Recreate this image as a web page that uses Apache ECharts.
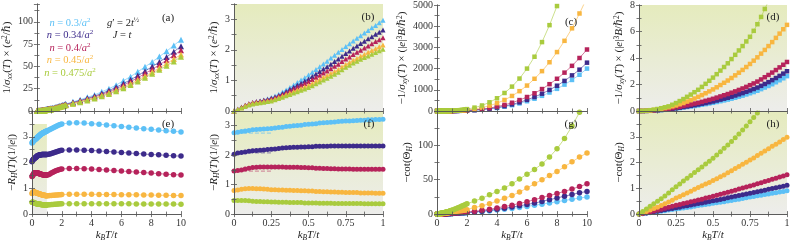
<!DOCTYPE html>
<html><head><meta charset="utf-8">
<script src="https://cdn.jsdelivr.net/npm/echarts@6/dist/echarts.min.js"></script>
<style>html,body{margin:0;padding:0;background:#fff}#c{width:793px;height:243px}</style>
</head><body><div id="c"></div>
<script>
// ---------- data ----------
const nLabels = ['0.3','0.34','0.4','0.45','0.475'];
const xLow = [0,0.025,0.05,0.075,0.1,0.125,0.15,0.175,0.2,0.225,0.25,0.275,0.3,0.325,0.35,0.375,0.4,0.425,0.45,0.475,0.5,0.525,0.55,0.575,0.6,0.625,0.65,0.675,0.7,0.725,0.75,0.775,0.8,0.825,0.85,0.875,0.9,0.925,0.95,0.975,1];
const xMid = [1.1,1.2,1.3,1.4,1.5,1.6,1.7,1.8,1.9,2.0];
const xHigh = [2.5,3,3.5,4,4.5,5,5.5,6,6.5,7,7.5,8,8.5,9,9.5,10];

// 1/sigma_xx
const sxxLow = [
 [0,.06,.12,.18,.23,.27,.30,.33,.36,.40,.44,.49,.55,.62,.69,.77,.85,.93,1.01,1.09,1.18,1.27,1.36,1.45,1.54,1.63,1.73,1.82,1.92,2.01,2.11,2.20,2.29,2.38,2.46,2.55,2.63,2.72,2.80,2.89,2.97],
 [0,.06,.12,.18,.23,.27,.30,.32,.35,.38,.42,.46,.51,.57,.64,.71,.78,.85,.91,.98,1.05,1.13,1.21,1.29,1.37,1.45,1.53,1.62,1.70,1.79,1.88,1.96,2.05,2.13,2.21,2.28,2.36,2.43,2.51,2.58,2.65],
 [0,.06,.12,.19,.24,.28,.30,.32,.34,.37,.40,.44,.49,.54,.60,.66,.72,.78,.84,.90,.96,1.03,1.10,1.17,1.24,1.31,1.38,1.46,1.53,1.62,1.70,1.77,1.85,1.92,1.99,2.06,2.13,2.20,2.27,2.33,2.40],
 [0,.05,.11,.17,.22,.25,.27,.29,.31,.33,.35,.39,.44,.49,.54,.59,.64,.69,.74,.79,.84,.90,.97,1.03,1.10,1.16,1.23,1.29,1.36,1.44,1.52,1.59,1.66,1.72,1.79,1.85,1.92,1.98,2.04,2.10,2.16],
 [0,.05,.10,.15,.20,.23,.25,.27,.29,.31,.33,.37,.41,.45,.50,.54,.59,.63,.68,.72,.77,.83,.89,.95,1.01,1.07,1.14,1.20,1.27,1.35,1.43,1.50,1.57,1.63,1.69,1.75,1.80,1.86,1.91,1.97,2.02]
];
const sxxMid = [
 [3.4,3.85,4.3,4.8,5.3,5.8,6.3,6.85,7.4,8.0],
 [3.07,3.5,3.95,4.4,4.9,5.4,5.9,6.4,6.95,7.5],
 [2.8,3.22,3.65,4.1,4.55,5.0,5.5,6.0,6.55,7.1],
 [2.55,2.96,3.38,3.82,4.27,4.73,5.2,5.7,6.2,6.7],
 [2.4,2.8,3.2,3.63,4.07,4.52,4.98,5.45,5.92,6.4]
];
const sxxHigh = [
 [10.3,12.7,15.3,18,21.5,25,29,34,38.5,44,49.5,55,61,67,73.5,80],
 [9.6,11.8,14.2,16.7,19.7,23,26.6,30.8,35,39.7,44.7,49.8,55,60.5,66.5,72.5],
 [9.1,11.2,13.5,15.8,18.6,21.6,25,28.9,32.9,37.3,42,46.8,51.8,57,62.5,68],
 [8.5,10.4,12.5,14.7,17.3,20.1,23.3,26.9,30.6,34.7,39,43.6,48.3,53.2,58.2,63.4],
 [8.1,9.9,11.9,14,16.5,19.2,22.2,25.6,29.2,33.1,37.3,41.7,46.2,50.8,55.6,60.8]
];

// -1/sigma_xy
const sxyLow = [
 [0,0,.01,.02,.03,.05,.07,.09,.12,.15,.18,.22,.26,.30,.34,.38,.42,.47,.52,.57,.62,.68,.74,.80,.86,.93,1.00,1.08,1.16,1.25,1.34,1.43,1.53,1.65,1.77,1.89,2.02,2.17,2.32,2.47,2.63],
 [0,0,.01,.02,.04,.06,.08,.11,.14,.17,.21,.25,.30,.34,.39,.44,.49,.55,.60,.66,.72,.79,.86,.93,1.00,1.08,1.17,1.26,1.35,1.45,1.55,1.66,1.77,1.90,2.04,2.18,2.33,2.49,2.65,2.82,3.00],
 [0,0,.01,.03,.05,.08,.11,.14,.18,.22,.27,.32,.38,.44,.50,.56,.62,.69,.77,.84,.92,1.01,1.10,1.19,1.28,1.38,1.48,1.59,1.70,1.82,1.95,2.08,2.22,2.38,2.55,2.72,2.90,3.09,3.29,3.49,3.70],
 [0,.01,.02,.04,.08,.12,.17,.22,.28,.35,.42,.51,.60,.71,.82,.94,1.07,1.20,1.34,1.48,1.63,1.79,1.96,2.13,2.30,2.49,2.69,2.89,3.10,3.32,3.55,3.80,4.05,4.33,4.61,4.90,5.20,5.52,5.84,6.17,6.50],
 [0,.01,.03,.06,.10,.15,.21,.28,.35,.47,.60,.75,.90,1.07,1.24,1.42,1.60,1.82,2.05,2.28,2.52,2.78,3.05,3.32,3.60,3.92,4.24,4.57,4.90,5.25,5.60,6.05,6.55,7.10,7.70,8.30,8.95,9.60,10.2,10.8,11.5]
];
const sxyMid = [
 [3.4,4.4,5.6,7.0,8.6,10.4,12.4,14.6,17.0,19.5],
 [3.9,5.0,6.4,8.0,9.8,11.9,14.2,16.7,19.4,22],
 [4.8,6.2,7.9,9.8,12.1,14.6,17.4,20.5,23.8,27.5],
 [8.5,11,14,17.5,21.5,26,31,36.5,42.5,49],
 [15,19.5,24.5,30.5,37.5,45.5,54,64,75,88]
];
const sxyHigh = [
 [36,62,97,142,200,272,357,460,578,716,872,1045,1245,1465,1710,2000],
 [41,71,111,162,228,310,408,525,660,817,995,1192,1420,1680,1950,2280],
 [52,88,139,204,288,390,515,660,835,1035,1265,1520,1810,2130,2500,2900],
 [94,160,250,368,520,710,935,1200,1520,1880,2300,2780,3310,3900,4600,5350],
 [160,260,410,600,850,1150,1530,2000,2560,3250,4050,4950,5950,7100,8350,9700]
];

// -R_H
const rhLow = [
 [2.76,2.78,2.80,2.82,2.84,2.86,2.87,2.88,2.89,2.90,2.91,2.92,2.94,2.95,2.97,2.98,3.00,3.01,3.02,3.04,3.05,3.06,3.07,3.09,3.10,3.11,3.12,3.13,3.14,3.15,3.16,3.16,3.17,3.18,3.19,3.19,3.20,3.20,3.21,3.21,3.22],
 [2.03,2.07,2.09,2.11,2.13,2.15,2.16,2.17,2.18,2.19,2.20,2.21,2.23,2.24,2.25,2.26,2.27,2.27,2.28,2.28,2.29,2.29,2.30,2.30,2.30,2.30,2.31,2.31,2.31,2.31,2.31,2.31,2.31,2.31,2.31,2.31,2.31,2.31,2.31,2.31,2.31],
 [1.46,1.48,1.50,1.53,1.56,1.58,1.59,1.60,1.60,1.60,1.60,1.60,1.60,1.60,1.59,1.59,1.59,1.59,1.58,1.58,1.57,1.57,1.56,1.56,1.55,1.55,1.54,1.54,1.53,1.53,1.53,1.53,1.52,1.52,1.52,1.52,1.52,1.52,1.52,1.52,1.52],
 [.80,.82,.84,.86,.87,.87,.86,.86,.85,.84,.83,.83,.82,.82,.81,.81,.80,.80,.79,.79,.78,.78,.77,.77,.76,.76,.75,.75,.74,.74,.73,.73,.73,.73,.72,.72,.72,.72,.71,.71,.71],
 [.46,.46,.46,.46,.45,.44,.43,.43,.42,.42,.41,.41,.40,.40,.40,.39,.39,.39,.39,.38,.38,.38,.38,.37,.37,.37,.37,.36,.36,.36,.36,.36,.36,.36,.36,.35,.35,.35,.35,.35,.35]
];
const rhMid = [
 [3.25,3.28,3.31,3.34,3.37,3.40,3.43,3.46,3.48,3.50],
 [2.32,2.33,2.35,2.37,2.39,2.41,2.43,2.45,2.47,2.48],
 [1.53,1.56,1.59,1.62,1.65,1.68,1.70,1.72,1.74,1.75],
 [.71,.72,.72,.73,.73,.74,.74,.75,.75,.76],
 [.36,.36,.37,.37,.38,.38,.39,.39,.40,.40]
];
const rhHigh = [
 [3.53,3.54,3.53,3.51,3.49,3.46,3.43,3.40,3.37,3.34,3.31,3.29,3.26,3.23,3.21,3.19],
 [2.49,2.49,2.48,2.47,2.45,2.43,2.41,2.39,2.37,2.35,2.33,2.31,2.30,2.28,2.26,2.25],
 [1.77,1.77,1.76,1.75,1.73,1.71,1.69,1.67,1.65,1.63,1.61,1.59,1.57,1.55,1.53,1.52],
 [.77,.77,.77,.77,.76,.76,.76,.75,.75,.75,.74,.74,.73,.73,.72,.72],
 [.40,.40,.40,.40,.40,.40,.40,.40,.40,.39,.39,.39,.39,.39,.39,.38]
];
// classical reference levels shown dashed in (f)
const dashX = [0.06, 0.25];
const dashY = [2.75, 2.08, 1.46];

// -cot(Theta_H)
const cotLow = [
 [0,.01,.03,.05,.07,.09,.11,.13,.16,.18,.20,.22,.24,.26,.28,.30,.33,.35,.37,.39,.42,.44,.46,.48,.51,.53,.56,.58,.61,.63,.66,.68,.71,.73,.76,.78,.81,.83,.86,.88,.91],
 [0,.02,.04,.06,.09,.11,.14,.17,.20,.22,.25,.27,.30,.32,.35,.38,.41,.43,.46,.49,.52,.54,.57,.60,.63,.66,.69,.72,.75,.78,.81,.84,.87,.90,.93,.96,.99,1.02,1.05,1.08,1.12],
 [0,.02,.05,.08,.12,.15,.19,.23,.27,.30,.34,.37,.41,.44,.48,.51,.55,.58,.62,.65,.69,.73,.77,.81,.85,.89,.93,.97,1.01,1.05,1.09,1.13,1.18,1.22,1.26,1.30,1.35,1.39,1.44,1.48,1.53],
 [0,.05,.10,.16,.22,.27,.33,.40,.47,.54,.62,.68,.75,.82,.89,.96,1.03,1.10,1.17,1.23,1.30,1.37,1.45,1.52,1.60,1.68,1.77,1.85,1.93,2.01,2.10,2.18,2.27,2.36,2.45,2.54,2.63,2.71,2.80,2.89,2.98],
 [0,.1,.2,.3,.4,.5,.6,.7,.82,.94,1.06,1.17,1.28,1.39,1.5,1.61,1.72,1.83,1.94,2.05,2.17,2.29,2.42,2.55,2.68,2.82,2.96,3.11,3.26,3.42,3.58,3.75,3.92,4.1,4.28,4.47,4.66,4.86,5.06,5.27,5.48]
];
const cotMid = [
 [1.0,1.1,1.2,1.3,1.4,1.5,1.6,1.7,1.8,1.9],
 [1.23,1.35,1.47,1.59,1.71,1.83,1.95,2.07,2.19,2.3],
 [1.68,1.83,1.98,2.13,2.27,2.42,2.57,2.71,2.86,3.0],
 [3.3,3.65,4.0,4.35,4.7,5.05,5.4,5.75,6.1,6.5],
 [6.4,7.3,8.2,9.1,10.1,11.0,12.0,13.0,14.0,15.0]
];
const cotHigh = [
 [2.7,3.6,4.6,5.8,7,8.3,9.7,11.2,12.8,14.5,16.2,18,19.8,21.6,23.3,25],
 [3.2,4.3,5.5,7,8.5,10.2,12,14,16,18.5,21,23.5,26,28.5,31,33],
 [4,5.5,7,9,11,13,15.5,18,21,24,27,30,33,36.5,40,44],
 [9.5,12,15,19,23,27,32,38,44,50,56,62,69,76,83,89],
 [19,23,28,33,38,44,51,58,65,73,83,95,110,128,148,170]
];

// ---------- style ----------
const C = ['#5cc0f6','#3d2b8b','#b6235b','#f8b640','#a9cb3e'];
const CL = ['rgba(92,191,245,0.55)','rgba(60,42,138,0.45)','rgba(180,34,90,0.45)'];
const AX = '#555';
const FF = '"Liberation Serif","DejaVu Serif",serif';
const LH = 13;
const rich = {
  i:{fontStyle:'italic',fontFamily:FF,fontSize:11,lineHeight:LH,color:'#222'},
  sub:{fontStyle:'italic',fontFamily:FF,fontSize:7.5,lineHeight:LH,verticalAlign:'bottom',color:'#222'},
  sup:{fontFamily:FF,fontSize:7.5,lineHeight:LH,verticalAlign:'top',color:'#222'}
};
const nameSxx = '1/{i|σ}{sub|xx}({i|T}) × ({i|e}{sup|2}/{i|ℏ})';
const nameSxy = '−1/{i|σ}{sub|xy}({i|T}) × (|{i|e}|{sup|3}{i|B}/{i|ℏ}{sup|2})';
const nameRh = '−{i|R}{sub|H}({i|T})(1/|{i|e}|)';
const nameCot = '−cot(Θ{sub|H})';
const nameX = '{i|k}{sub|B}{i|T}/{i|t}';
const BG = {type:'linear',x:0,y:0,x2:0,y2:1,colorStops:[{offset:0,color:'#e5ebbd'},{offset:1,color:'#ededeb'}]};

const panels = [
 {g:[32,4,149,107], x:[10,2], y:[120,25], hideMax:true, bottom:false, name:nameSxx, gap:17, sym:'triangle', size:6, low:sxxLow, mid:sxxMid, high:sxxHigh, shade:[1,3.5], lab:'(a)', lp:[168,18]},
 {g:[234,4,149,107], x:[1,0.25], y:[3.5,1], hideMax:true, bottom:false, name:nameSxx, gap:9, sym:'triangle', size:5, low:sxxLow, shade:[1,3.5], lab:'(b)', lp:[368,17]},
 {g:[437,4,150,107], x:[10,2], y:[5000,1000], hideMax:false, bottom:false, name:nameSxy, gap:25, sym:'rect', size:4.5, low:sxyLow, mid:sxyMid, high:sxyHigh, shade:[1,8], lab:'(c)', lp:[571,22]},
 {g:[639,4,148,107], x:[1,0.25], y:[8,2], hideMax:false, bottom:false, name:nameSxy, gap:9, sym:'rect', size:4.5, low:sxyLow, shade:[1,8], lab:'(d)', lp:[773,17]},
 {g:[32,111,149,107], x:[10,2], y:[4,1], hideMax:true, bottom:true, name:nameRh, gap:6, sym:'circle', size:5.5, low:rhLow, mid:rhMid, high:rhHigh, shade:[1,3.5], lab:'(e)', lp:[168,124]},
 {g:[234,111,149,107], x:[1,0.25], y:[3.5,1], hideMax:true, bottom:true, name:nameRh, gap:9, sym:'circle', size:5, low:rhLow, shade:[1,3.5], lab:'(f)', lp:[369,124], dash:true},
 {g:[437,111,150,107], x:[10,2], y:[150,50], hideMax:true, bottom:true, name:nameCot, gap:10, sym:'circle', size:5.5, low:cotLow, mid:cotMid, high:cotHigh, shade:[1,4], lab:'(g)', lp:[571,124]},
 {g:[639,111,148,107], x:[1,0.25], y:[4,1], hideMax:true, bottom:true, name:nameCot, gap:9, sym:'circle', size:5, low:cotLow, shade:[1,4], lab:'(h)', lp:[773,124]}
];

function pairs(xs, ys){ return xs.map((x,i)=>[x, ys[i]]); }
const tickStyle = {show:true, inside:true, length:3, lineStyle:{color:AX, width:0.8}};
const minorStyle = {show:true, splitNumber:2, length:2.5, lineStyle:{color:AX, width:0.8}};
const labelStyle = {fontFamily:FF, fontSize:10, color:'#333'};

const option = {animation:false, backgroundColor:'#fff', grid:[], xAxis:[], yAxis:[], series:[], graphic:[]};

panels.forEach((p,k)=>{
  option.grid.push({left:p.g[0], top:p.g[1], width:p.g[2], height:p.g[3], containLabel:false, show:false});
  const baseX = {type:'value', gridIndex:k, min:0, max:p.x[0], interval:p.x[1], z:10,
    axisLine:{show:true, lineStyle:{color:AX, width:0.8}}, axisTick:tickStyle, minorTick:minorStyle, splitLine:{show:false}};
  option.xAxis.push(Object.assign({}, baseX, {position:'bottom',
    axisLabel:{show:p.bottom, margin:4, formatter:v=>String(v), ...labelStyle},
    name:p.bottom?nameX:'', nameLocation:'middle', nameGap:12,
    nameTextStyle:{fontFamily:FF, fontSize:11, color:'#222', lineHeight:LH, rich:rich}}));
  option.xAxis.push(Object.assign({}, baseX, {position:'top', axisLabel:{show:false}}));
  const baseY = {type:'value', gridIndex:k, min:0, max:p.y[0], interval:p.y[1], z:10,
    axisLine:{show:true, lineStyle:{color:AX, width:0.8}}, axisTick:tickStyle, minorTick:minorStyle, splitLine:{show:false}};
  option.yAxis.push(Object.assign({}, baseY, {position:'left',
    axisLabel:{show:true, margin:4, showMaxLabel:!p.hideMax, formatter:v=>String(v), ...labelStyle},
    name:p.name, nameLocation:'middle', nameGap:p.gap,
    nameTextStyle:{fontFamily:FF, fontSize:11, color:'#222', lineHeight:LH, rich:rich}}));
  option.yAxis.push(Object.assign({}, baseY, {position:'right', axisLabel:{show:false}}));
  const xi = 2*k, yi = 2*k;
  option.series.push({type:'line', xAxisIndex:xi, yAxisIndex:yi, data:[[0,0]], symbol:'none', silent:true,
    lineStyle:{opacity:0}, z:1,
    markArea:{silent:true, itemStyle:{color:BG, borderWidth:0}, data:[[{coord:[0,0]},{coord:[p.shade[0],p.shade[1]]}]]}});
  p.low.forEach((ys,s)=>{
    let d = pairs(xLow, ys);
    if (p.mid) d = d.concat(pairs(xMid, p.mid[s]), pairs(xHigh, p.high[s]));
    option.series.push({type:'line', xAxisIndex:xi, yAxisIndex:yi, data:d, symbol:p.sym, symbolSize:p.size,
      showAllSymbol:true, silent:true, z:3+s, clip:true,
      itemStyle:{color:C[s], borderWidth:0}, lineStyle:{color:C[s], width:0.8, opacity:0.75}});
  });
  if (p.dash) {
    dashY.forEach((yv,s)=>{
      option.series.push({type:'line', xAxisIndex:xi, yAxisIndex:yi, data:dashX.map(x=>[x,yv]), symbol:'none', silent:true, z:9,
        lineStyle:{color:CL[s], width:1.2, type:[4,2]}});
    });
  }
  option.graphic.push({type:'text', x:p.lp[0], y:p.lp[1], z:20,
    style:{text:p.lab, fontFamily:FF, fontSize:11, fill:'#222', textAlign:'center', textVerticalAlign:'middle'}});
});

// legend-like annotations inside panel (a)
const legY = [23, 35.5, 48, 60.5, 73];
nLabels.forEach((t,i)=>{
  option.graphic.push({type:'text', x:70, y:legY[i], z:20, style:{
    text:'{i|n} = '+t+'/{i|a}{s|2}', fontFamily:FF, fontSize:10.5, fill:C[i], textAlign:'center', textVerticalAlign:'middle',
    rich:{i:{fontStyle:'italic', fontFamily:FF, fontSize:10.5, fill:C[i], lineHeight:LH},
          s:{fontFamily:FF, fontSize:7, fill:C[i], verticalAlign:'top', lineHeight:LH}}}});
});
option.graphic.push({type:'text', x:123, y:23, z:20, style:{
  text:'{i|g}′ = 2{i|t}{s|½}', fontFamily:FF, fontSize:10.5, fill:'#222', textAlign:'center', textVerticalAlign:'middle',
  rich:{i:{fontStyle:'italic', fontFamily:FF, fontSize:10.5, fill:'#222', lineHeight:LH},
        s:{fontFamily:FF, fontSize:7, fill:'#222', verticalAlign:'top', lineHeight:LH}}}});
option.graphic.push({type:'text', x:122, y:35, z:20, style:{
  text:'{i|J} = {i|t}', fontFamily:FF, fontSize:10.5, fill:'#222', textAlign:'center', textVerticalAlign:'middle',
  rich:{i:{fontStyle:'italic', fontFamily:FF, fontSize:10.5, fill:'#222', lineHeight:LH}}}});

const chart = echarts.init(document.getElementById('c'), null, {renderer:'canvas'});
chart.setOption(option);
</script></body></html>
